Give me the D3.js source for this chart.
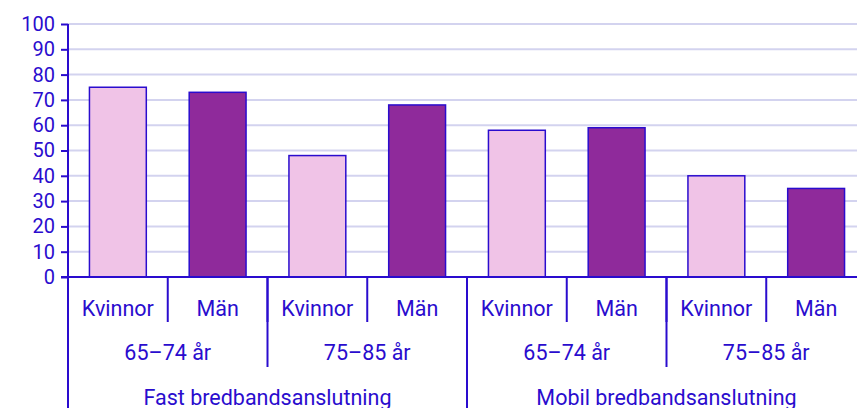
<!DOCTYPE html>
<html>
<head>
<meta charset="utf-8">
<script src="https://cdn.jsdelivr.net/npm/d3@7"></script>
<style>
  body { margin: 0; background: #fff; }
  svg { display: block; font-family: Roboto, "Noto Sans", sans-serif; }
</style>
</head>
<body>
<svg id="chart" width="857" height="408"></svg>
<script>
const groups = ["Fast bredbandsanslutning", "Mobil bredbandsanslutning"];
const ages = ["65–74 år", "75–85 år"];
const sexes = ["Kvinnor", "Män"];
const values = [75, 73, 48, 68, 58, 59, 40, 35];
const yTicks = [0, 10, 20, 30, 40, 50, 60, 70, 80, 90, 100];

const ink = "#2a0cce",
    grid = "#d3d3ef",
    colors = { "Kvinnor": "#f0c3e7", "Män": "#8f2a9b" };

const svg = d3.select("#chart"),
    plotLeft = 68, plotRight = 866, plotTop = 24, plotBottom = 277;

// build flat rows: group / age / sex
const rows = [];
groups.forEach(g => ages.forEach(a => sexes.forEach(s => {
    rows.push({ key: rows.length, group: g, age: a, sex: s, value: values[rows.length] });
})));

const x = d3.scaleBand()
    .domain(rows.map(d => d.key))
    .range([plotLeft, plotRight])
    .paddingInner(0.43)
    .paddingOuter(0.215);

const step = x.step(),
    x0 = plotLeft;

const y = d3.scaleLinear().domain([0, 100]).range([plotBottom, plotTop]);

// gridlines
svg.append("g")
    .selectAll("line")
    .data(yTicks.filter(t => t > 0))
    .join("line")
    .attr("x1", plotLeft).attr("x2", 857)
    .attr("y1", d => y(d)).attr("y2", d => y(d))
    .attr("stroke", grid)
    .attr("stroke-width", 2);

// bars
svg.append("g")
    .selectAll("rect")
    .data(rows)
    .join("rect")
    .attr("x", d => x(d.key))
    .attr("y", d => y(d.value))
    .attr("width", x.bandwidth())
    .attr("height", d => y(0) - y(d.value))
    .attr("fill", d => colors[d.sex])
    .attr("stroke", ink)
    .attr("stroke-width", 1.5);

// y axis
const yAxis = svg.append("g")
    .attr("transform", `translate(${plotLeft},0)`)
    .call(d3.axisLeft(y).tickValues(yTicks).tickSize(7).tickPadding(6));
yAxis.select(".domain").remove();
yAxis.selectAll("line").attr("stroke", ink).attr("stroke-width", 2);
yAxis.selectAll("text")
    .attr("fill", ink)
    .style("font-size", "20px")
    .style("font-family", "Roboto, sans-serif");

// axis lines
svg.append("line")
    .attr("x1", plotLeft).attr("x2", plotLeft)
    .attr("y1", plotTop).attr("y2", 408)
    .attr("stroke", ink).attr("stroke-width", 2);
svg.append("line")
    .attr("x1", plotLeft - 7).attr("x2", 857)
    .attr("y1", plotBottom).attr("y2", plotBottom)
    .attr("stroke", ink).attr("stroke-width", 2);

// category label levels
const cats = svg.append("g").attr("fill", ink).style("font-size", "21.5px");

function level(items, span, lineEnd, baseline) {
    items.forEach((label, i) => {
        const a = x0 + i * span * step;
        cats.append("line")
            .attr("x1", a).attr("x2", a)
            .attr("y1", plotBottom).attr("y2", lineEnd)
            .attr("stroke", ink).attr("stroke-width", 2);
        cats.append("text")
            .attr("x", a + span * step / 2)
            .attr("y", baseline)
            .attr("text-anchor", "middle")
            .text(label);
    });
}

level(rows.map(d => d.sex), 1, 322, 315.5);
level(groups.flatMap(() => ages), 2, 367, 359.5);
level(groups, 4, 408, 404.5);
</script>
</body>
</html>
